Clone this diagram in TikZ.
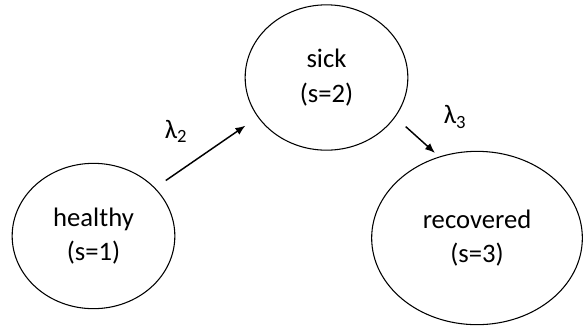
\documentclass[tikz,border=0pt]{standalone}
\usepackage{fontspec}
\setmainfont{Carlito}
\usepackage{tikz}
\usetikzlibrary{shapes.geometric,arrows.meta}

\tikzset{
  state/.style={draw, ellipse, line width=0.8pt, inner sep=0pt, align=center,
    font=\fontsize{20}{26}\selectfont},
  trans/.style={line width=1.1pt, -{Latex[length=7.5pt,width=6pt]}},
  rate/.style={inner sep=0.75pt, font=\fontsize{20}{24}\selectfont}
}

\begin{document}
\begin{tikzpicture}[x=0.75pt,y=0.75pt,yscale=-1,xscale=1]
        \useasboundingbox (0,0) rectangle (584,329);

        %Shape: Ellipse [healthy]
        \node [state, minimum width=122pt, minimum height=109pt] (healthy) at (93.5,236) {healthy\\(s=1)};
        %Shape: Ellipse [sick]
        \node [state, minimum width=122pt, minimum height=109pt] (sick) at (326.5,77.5) {sick\\(s=2)};
        %Shape: Ellipse [recovered]
        \node [state, minimum width=158pt, minimum height=130pt] (recovered) at (477,238) {recovered\\(s=3)};

        % Arrows
        \draw [trans, shorten <=9.7pt, shorten >=11.2pt] (healthy.38) -- (sick.210);
        \draw [trans, shorten <=10.5pt, shorten >=4.1pt] (sick.-30) -- (recovered.115.5);

        % Text Node
        \node [rate] (lam2) at (176,131) {λ\textsubscript{2}};
        % Text Node
        \node [rate] (lam3) at (455,117) {λ\textsubscript{3}};

\end{tikzpicture}
\end{document}
